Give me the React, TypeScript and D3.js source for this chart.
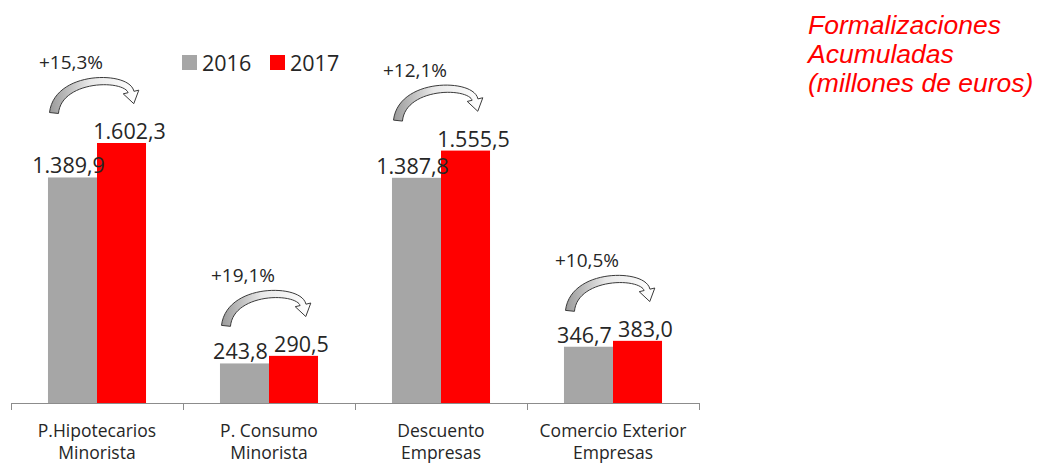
import React, { useRef, useEffect } from 'react';
import * as d3 from 'd3';

const categories = [
  ['P.Hipotecarios', 'Minorista'],
  ['P. Consumo', 'Minorista'],
  ['Descuento', 'Empresas'],
  ['Comercio Exterior', 'Empresas'],
];
const series = ['2016', '2017'];
const values2016 = [1389.9, 243.8, 1387.8, 346.7];
const values2017 = [1602.3, 290.5, 1555.5, 383.0];
const growthLabels = ['+15,3%', '+19,1%', '+12,1%', '+10,5%'];
const titleLines = ['Formalizaciones', 'Acumuladas', '(millones de euros)'];

const colors: Record<string, string> = { '2016': '#A6A6A6', '2017': '#FF0000' };
const FONT = "'Open Sans', 'DejaVu Sans', sans-serif";

const fmt = (v: number) => {
  const [i, d] = v.toFixed(1).split('.');
  return i.replace(/\B(?=(\d{3})+(?!\d))/g, '.') + ',' + d;
};

// curved block arrow from (sx, sy) over a peak, arrowhead ending at (ex, ey)
function arrowPath(sx: number, sy: number, ex: number, ey: number, peakY: number) {
  const hx = ex - 7, hy = ey - 11;
  const p0 = [sx, sy], p1 = [sx + 4, peakY], p2 = [hx - 4, peakY], p3 = [hx, hy];
  const pt = (t: number) => {
    const u = 1 - t;
    return [0, 1].map(k => u * u * u * p0[k] + 3 * u * u * t * p1[k] + 3 * u * t * t * p2[k] + t * t * t * p3[k]);
  };
  const der = (t: number) => {
    const u = 1 - t;
    return [0, 1].map(k => 3 * u * u * (p1[k] - p0[k]) + 6 * u * t * (p2[k] - p1[k]) + 3 * t * t * (p3[k] - p2[k]));
  };
  const left: number[][] = [], right: number[][] = [];
  const N = 30;
  for (let i = 0; i <= N; i++) {
    const t = i / N;
    const [x, y] = pt(t);
    const [dx, dy] = der(t);
    const len = Math.hypot(dx, dy) || 1;
    const nx = -dy / len, ny = dx / len;
    const w = (9 - 3 * t) / 2;
    left.push([x + nx * w, y + ny * w]);
    right.push([x - nx * w, y - ny * w]);
  }
  const [dx, dy] = der(1);
  const len = Math.hypot(dx, dy);
  const tx = dx / len, ty = dy / len;
  const nx = -ty, ny = tx;
  const wing = 8;
  const tip = [hx + tx * 12, hy + ty * 12];
  const pts = [
    ...left,
    [hx + nx * wing, hy + ny * wing],
    tip,
    [hx - nx * wing, hy - ny * wing],
    ...right.reverse(),
  ];
  return d3.line()(pts as [number, number][]) + 'Z';
}

const App: React.FC = () => {
  const svgRef = useRef<SVGSVGElement | null>(null);
  const width = 1042;
  const height = 464;

  useEffect(() => {
    if (!svgRef.current) return;
    const svg = d3.select(svgRef.current);
    svg.selectAll('*').remove();

    const keys = categories.map(c => c.join(' '));
    const x0 = d3.scaleBand<string>().domain(keys).range([11, 699]).paddingInner(0.43).paddingOuter(0.215);
    const x1 = d3.scaleBand<string>().domain(series).range([0, x0.bandwidth()]);
    const y = d3.scaleLinear().domain([0, 1602.3]).range([403, 143]);
    const step = x0.step();

    const defs = svg.append('defs');
    const grad = defs.append('linearGradient').attr('id', 'arrowGrad').attr('x1', '0%').attr('x2', '100%');
    grad.append('stop').attr('offset', '0%').attr('stop-color', '#9a9a9a');
    grad.append('stop').attr('offset', '45%').attr('stop-color', '#e8e8e8');
    grad.append('stop').attr('offset', '100%').attr('stop-color', '#ffffff');

    // bars
    const groups = svg.append('g').selectAll('g')
      .data(keys)
      .enter()
      .append('g')
      .attr('transform', d => `translate(${x0(d)},0)`);

    groups.selectAll('rect')
      .data((_, i) => [
        { s: '2016', v: values2016[i] },
        { s: '2017', v: values2017[i] },
      ])
      .enter()
      .append('rect')
      .attr('x', d => x1(d.s)!)
      .attr('y', d => y(d.v))
      .attr('width', x1.bandwidth())
      .attr('height', d => y(0) - y(d.v))
      .attr('fill', d => colors[d.s]);

    // value labels
    groups.selectAll('text.val')
      .data((_, i) => [
        { s: '2016', v: values2016[i], dx: -4 },
        { s: '2017', v: values2017[i], dx: 8 },
      ])
      .enter()
      .append('text')
      .attr('class', 'val')
      .attr('x', d => x1(d.s)! + x1.bandwidth() / 2 + d.dx)
      .attr('y', d => y(d.v) - 4)
      .attr('text-anchor', 'middle')
      .attr('font-family', FONT)
      .attr('font-size', 21.5)
      .attr('fill', '#262626')
      .text(d => fmt(d.v));

    // axis
    const axis = svg.append('g').attr('stroke', '#8c8c8c').attr('stroke-width', 1);
    axis.append('line').attr('x1', 11).attr('x2', 699).attr('y1', 403.5).attr('y2', 403.5);
    d3.range(keys.length + 1).forEach(i => {
      const tx = Math.round(11 + i * step) + 0.5;
      axis.append('line').attr('x1', tx).attr('x2', tx).attr('y1', 403).attr('y2', 410);
    });

    // category labels
    keys.forEach((k, i) => {
      const t = svg.append('text')
        .attr('text-anchor', 'middle')
        .attr('font-family', FONT)
        .attr('font-size', 17.5)
        .attr('fill', '#262626');
      categories[i].forEach((line, j) => {
        t.append('tspan')
          .attr('x', x0(k)! + x0.bandwidth() / 2)
          .attr('y', 437 + j * 22)
          .text(line);
      });
    });

    // growth arrows and labels
    keys.forEach((k, i) => {
      const sx = x0(k)! + 6;
      const ex = x0(k)! + x0.bandwidth() - 8;
      const ey = y(values2017[i]) - 40;
      const sy = ey + 10;
      const peakY = ey - 28;
      svg.append('path')
        .attr('d', arrowPath(sx, sy, ex, ey, peakY))
        .attr('fill', 'url(#arrowGrad)')
        .attr('stroke', '#3a3a3a')
        .attr('stroke-width', 1);
      svg.append('text')
        .attr('x', x0(k)! + x0.bandwidth() / 2 - 26)
        .attr('y', ey - 34)
        .attr('text-anchor', 'middle')
        .attr('font-family', FONT)
        .attr('font-size', 19)
        .attr('fill', '#262626')
        .text(growthLabels[i]);
    });

    // legend
    const legend = svg.append('g');
    series.forEach((s, i) => {
      const lx = 182 + i * 88;
      legend.append('rect').attr('x', lx).attr('y', 55).attr('width', 15).attr('height', 15).attr('fill', colors[s]);
      legend.append('text')
        .attr('x', lx + 20)
        .attr('y', 71)
        .attr('font-family', FONT)
        .attr('font-size', 21.5)
        .attr('fill', '#262626')
        .text(s);
    });

    // title
    const title = svg.append('text')
      .attr('font-family', "'Liberation Sans', Arial, sans-serif")
      .attr('font-style', 'italic')
      .attr('font-size', 26.5)
      .attr('fill', '#FF0000');
    titleLines.forEach((line, j) => {
      title.append('tspan').attr('x', 808).attr('y', 34 + j * 29).text(line);
    });
  }, []);

  return (
    <svg
      ref={svgRef}
      width={width}
      height={height}
      style={{ position: 'absolute', left: 0, top: 0, background: '#fff' }}
    />
  );
};

export default App;
